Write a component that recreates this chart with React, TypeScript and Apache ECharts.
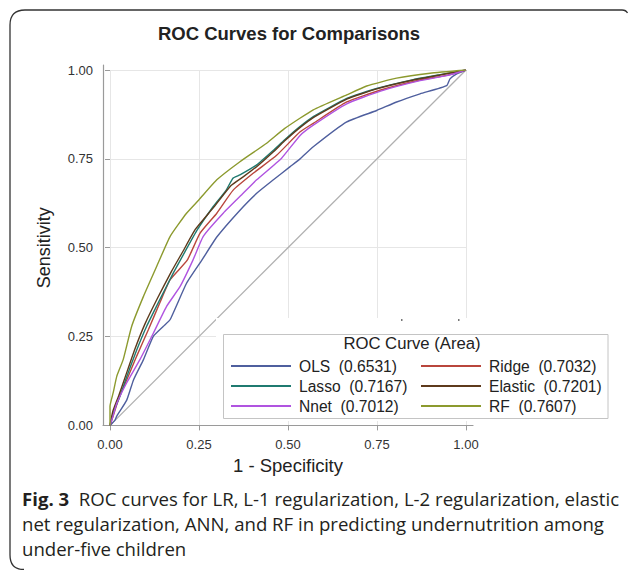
import React, { useEffect, useRef } from 'react';
import * as echarts from 'echarts';

// ---------- text ----------
const chartTitle = 'ROC Curves for Comparisons';
const xAxisName = '1 - Specificity';
const yAxisName = 'Sensitivity';
const legendTitle = 'ROC Curve (Area)';
const captionBold = 'Fig. 3';
const captionLine1 = 'ROC curves for LR, L-1 regularization, L-2 regularization, elastic';
const captionLine2 = 'net regularization, ANN, and RF in predicting undernutrition among';
const captionLine3 = 'under-five children';

// ---------- axes ----------
const tickValues = [0, 0.25, 0.5, 0.75, 1];

// ---------- series ----------
const seriesNames = ['OLS', 'Ridge', 'Lasso', 'Elastic', 'Nnet', 'RF'];
const aucValues = ['0.6531', '0.7032', '0.7167', '0.7201', '0.7012', '0.7607'];
const seriesColors = ['#4f5f9e', '#b9463c', '#1f7a70', '#5e3a1c', '#b054e0', '#8c9a2e'];
const legendLeftColumn = ['OLS', 'Lasso', 'Nnet'];
const legendRightColumn = ['Ridge', 'Elastic', 'RF'];

const diagonalPoints = [[0, 0], [1, 1]];

const olsPoints = [
  [0, 0], [0.014, 0.015], [0.019, 0.026], [0.047, 0.071], [0.066, 0.128], [0.094, 0.185],
  [0.122, 0.251], [0.15, 0.279], [0.169, 0.298], [0.215, 0.4], [0.258, 0.465], [0.3, 0.53],
  [0.36, 0.6], [0.412, 0.653], [0.459, 0.691], [0.506, 0.728], [0.534, 0.75], [0.571, 0.784],
  [0.665, 0.854], [0.749, 0.886], [0.805, 0.91], [0.871, 0.933], [0.946, 0.956], [0.955, 0.975],
  [0.974, 0.989], [1, 1],
];
const ridgePoints = [
  [0, 0], [0.01, 0.03], [0.023, 0.071], [0.047, 0.128], [0.075, 0.195], [0.108, 0.27],
  [0.14, 0.345], [0.169, 0.41], [0.217, 0.465], [0.253, 0.541], [0.3, 0.597], [0.346, 0.662],
  [0.403, 0.71], [0.468, 0.76], [0.534, 0.826], [0.571, 0.85], [0.665, 0.91], [0.758, 0.943],
  [0.871, 0.972], [0.946, 0.985], [1, 1],
];
const lassoPoints = [
  [0, 0], [0.009, 0.035], [0.028, 0.082], [0.047, 0.137], [0.075, 0.212], [0.103, 0.279],
  [0.14, 0.354], [0.178, 0.429], [0.208, 0.484], [0.245, 0.55], [0.29, 0.616], [0.325, 0.66],
  [0.346, 0.696], [0.365, 0.705], [0.412, 0.733], [0.459, 0.774], [0.49, 0.803], [0.53, 0.838],
  [0.571, 0.869], [0.665, 0.92], [0.749, 0.948], [0.852, 0.973], [0.927, 0.987], [1, 1],
];
const elasticPoints = [
  [0, 0], [0.008, 0.04], [0.025, 0.085], [0.044, 0.14], [0.07, 0.215], [0.098, 0.285],
  [0.133, 0.357], [0.172, 0.432], [0.205, 0.49], [0.24, 0.552], [0.29, 0.612], [0.34, 0.675],
  [0.375, 0.7], [0.412, 0.728], [0.459, 0.77], [0.49, 0.8], [0.53, 0.835], [0.571, 0.866],
  [0.665, 0.918], [0.749, 0.947], [0.852, 0.972], [0.927, 0.986], [1, 1],
];
const nnetPoints = [
  [0, 0], [0.008, 0.025], [0.019, 0.062], [0.047, 0.12], [0.084, 0.185], [0.122, 0.26],
  [0.159, 0.335], [0.197, 0.391], [0.233, 0.465], [0.262, 0.532], [0.318, 0.597], [0.374, 0.653],
  [0.412, 0.691], [0.482, 0.752], [0.534, 0.816], [0.571, 0.845], [0.665, 0.905], [0.758, 0.94],
  [0.871, 0.97], [0.946, 0.984], [1, 1],
];
const rfPoints = [
  [0, 0], [0, 0.054], [0.009, 0.092], [0.019, 0.138], [0.037, 0.185], [0.061, 0.279],
  [0.094, 0.363], [0.131, 0.447], [0.169, 0.532], [0.215, 0.597], [0.25, 0.635], [0.3, 0.691],
  [0.365, 0.742], [0.44, 0.794], [0.49, 0.835], [0.571, 0.888], [0.665, 0.93], [0.721, 0.955],
  [0.805, 0.977], [0.899, 0.991], [1, 1],
];
const seriesPoints = [olsPoints, ridgePoints, lassoPoints, elasticPoints, nnetPoints, rfPoints];

const SANS = '"Liberation Sans", Arial, sans-serif';
const CAPTION_FONT = '"Open Sans", "Noto Sans", sans-serif';
const CAPTION_SIZE = 18.6;

let registered = false;
function registerShapes() {
  if (registered) return;
  registered = true;
  echarts.graphic.registerShape(
    'frameBorder',
    echarts.graphic.extendPath('M 24 569.5 Q 10 569.5 10 555 L 10 25 Q 10 10 25 10 L 622 10 Q 626 10 627.5 13', {})
  );
}

export default function App() {
  const ref = useRef<HTMLDivElement>(null);

  useEffect(() => {
    document.body.style.margin = '0';
    registerShapes();
    const chart = echarts.init(ref.current!, undefined, { renderer: 'svg' });

    const aucOf = (name: string) => aucValues[seriesNames.indexOf(name)];
    const legendBase = {
      orient: 'vertical',
      top: 356,
      itemWidth: 60,
      itemHeight: 2,
      itemGap: 0,
      padding: 0,
      icon: 'rect',
      selectedMode: false,
      z: 20,
      itemStyle: { borderWidth: 0 },
      textStyle: {
        fontSize: 15.6,
        fontFamily: SANS,
        color: '#222',
        lineHeight: 20,
        padding: [0, 0, 0, 3],
      },
      formatter: (name: string) => `${name}  (${aucOf(name)})`,
    };

    const captionStyle = {
      fontSize: CAPTION_SIZE,
      fontFamily: CAPTION_FONT,
      fill: '#231f20',
      align: 'left',
      verticalAlign: 'middle',
      textAlign: 'left',
      textVerticalAlign: 'middle',
    };

    const option: any = {
      animation: false,
      backgroundColor: '#fff',
      grid: [
        { left: 110, top: 70, width: 356, height: 355.4 },
        { left: 103, top: 65, width: 370, height: 360 },
      ],
      xAxis: [
        {
          type: 'value',
          gridIndex: 0,
          min: tickValues[0],
          max: tickValues[tickValues.length - 1],
          interval: 0.25,
          offset: 2,
          axisLine: { show: false },
          axisTick: { show: true, length: 5, lineStyle: { color: '#9a9a9a' } },
          axisLabel: {
            margin: 11,
            fontSize: 13,
            fontFamily: SANS,
            color: '#333',
            formatter: (v: number) => v.toFixed(2),
          },
          splitLine: { show: true, lineStyle: { color: '#e6e6e6', width: 1 } },
          name: xAxisName,
          nameLocation: 'middle',
          nameGap: 28,
          nameTextStyle: { fontSize: 18.5, fontFamily: SANS, color: '#222' },
        },
        {
          type: 'value',
          gridIndex: 1,
          min: 0,
          max: 1,
          axisLine: { show: true, onZero: false, lineStyle: { color: '#9a9a9a', width: 1.2 } },
          axisTick: { show: false },
          axisLabel: { show: false },
          splitLine: { show: false },
        },
      ],
      yAxis: [
        {
          type: 'value',
          gridIndex: 0,
          min: tickValues[0],
          max: tickValues[tickValues.length - 1],
          interval: 0.25,
          offset: 7,
          axisLine: { show: false },
          axisTick: { show: true, length: 5, lineStyle: { color: '#9a9a9a' } },
          axisLabel: {
            margin: 10,
            fontSize: 13,
            fontFamily: SANS,
            color: '#333',
            formatter: (v: number) => v.toFixed(2),
          },
          splitLine: { show: true, lineStyle: { color: '#e6e6e6', width: 1 } },
          name: yAxisName,
          nameLocation: 'middle',
          nameGap: 50,
          nameTextStyle: { fontSize: 18, fontFamily: SANS, color: '#222' },
        },
        {
          type: 'value',
          gridIndex: 1,
          min: 0,
          max: 1,
          axisLine: { show: true, onZero: false, lineStyle: { color: '#9a9a9a', width: 1.2 } },
          axisTick: { show: false },
          axisLabel: { show: false },
          splitLine: { show: false },
        },
      ],
      legend: [
        { ...legendBase, left: 231, data: legendLeftColumn },
        { ...legendBase, left: 421, data: legendRightColumn },
      ],
      series: [
        {
          type: 'line',
          name: 'diagonal',
          data: diagonalPoints,
          symbol: 'none',
          silent: true,
          z: 1,
          lineStyle: { color: '#b0b0b0', width: 1.3 },
          itemStyle: { color: '#b0b0b0' },
        },
        ...seriesNames.map((name, i) => ({
          type: 'line',
          name,
          data: seriesPoints[i],
          symbol: 'none',
          showSymbol: false,
          silent: true,
          smooth: 0.15,
          z: 3,
          lineStyle: { color: seriesColors[i], width: 1.4 },
          itemStyle: { color: seriesColors[i] },
        })),
      ],
      graphic: [
        {
          type: 'frameBorder',
          x: 0,
          y: 0,
          scaleX: 1,
          scaleY: 1,
          z: 30,
          silent: true,
          style: { fill: 'none', stroke: '#333', lineWidth: 1.3 },
        },
        {
          type: 'text',
          x: 289,
          y: 33,
          z: 30,
          style: {
            text: chartTitle,
            fontSize: 18.5,
            fontWeight: 'bold',
            fontFamily: SANS,
            fill: '#222',
            align: 'center',
            verticalAlign: 'middle',
            textAlign: 'center',
            textVerticalAlign: 'middle',
          },
        },
        {
          type: 'rect',
          z: 10,
          silent: true,
          shape: { x: 216, y: 318, width: 396, height: 103 },
          style: { fill: '#fff' },
        },
        {
          type: 'rect',
          z: 11,
          silent: true,
          shape: { x: 223.5, y: 334.5, width: 384.5, height: 84 },
          style: { fill: 'none', stroke: '#c4c4c4', lineWidth: 1 },
        },
        {
          type: 'rect',
          z: 11,
          silent: true,
          shape: { x: 401, y: 319, width: 1.5, height: 2 },
          style: { fill: '#777' },
        },
        {
          type: 'rect',
          z: 11,
          silent: true,
          shape: { x: 458, y: 319, width: 1.5, height: 2 },
          style: { fill: '#777' },
        },
        {
          type: 'text',
          x: 412,
          y: 343,
          z: 21,
          style: {
            text: legendTitle,
            fontSize: 16.7,
            fontFamily: SANS,
            fill: '#222',
            align: 'center',
            verticalAlign: 'middle',
            textAlign: 'center',
            textVerticalAlign: 'middle',
          },
        },
        {
          type: 'text',
          x: 22,
          y: 498,
          z: 30,
          style: {
            ...captionStyle,
            text: `{b|${captionBold}}  ${captionLine1}`,
            rich: {
              b: { fontSize: CAPTION_SIZE, fontWeight: 'bold', fontFamily: CAPTION_FONT, fill: '#231f20', color: '#231f20' },
            },
          },
        },
        {
          type: 'text',
          x: 22,
          y: 523,
          z: 30,
          style: { ...captionStyle, text: captionLine2 },
        },
        {
          type: 'text',
          x: 22,
          y: 548,
          z: 30,
          style: { ...captionStyle, text: captionLine3 },
        },
      ],
    };

    chart.setOption(option);
    return () => chart.dispose();
  }, []);

  return <div ref={ref} style={{ width: 630, height: 570 }} />;
}
